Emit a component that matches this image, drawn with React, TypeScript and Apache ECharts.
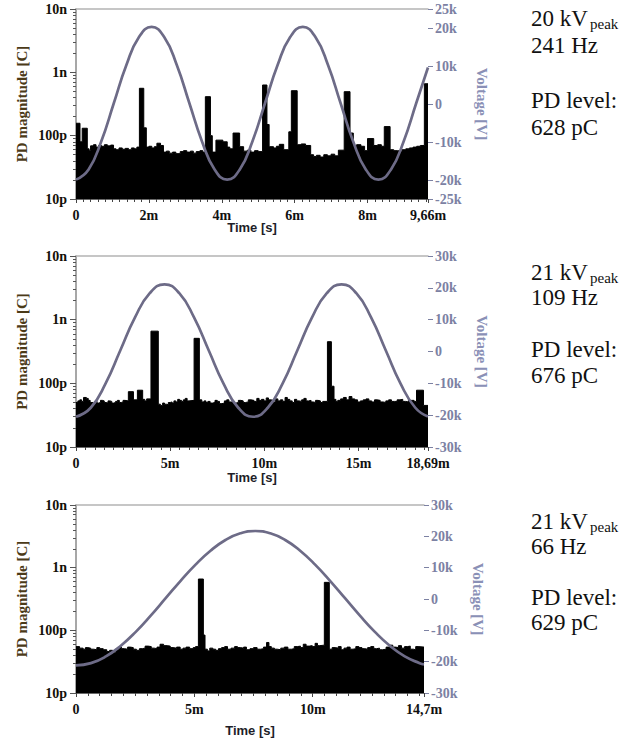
import React, { useEffect, useRef } from 'react';
import * as echarts from 'echarts';

const SERIF = 'Liberation Serif, Times New Roman, serif';
const SANS = 'Liberation Sans, Arial, sans-serif';

// PD magnitude axis (values in pC)
const PD_TICKS = [10, 100, 1000, 10000];
const PD_TICK_LABELS = ['10p', '100p', '1n', '10n'];
const PD_MINOR_TICKS = [
  20, 30, 40, 50, 60, 70, 80, 90,
  200, 300, 400, 500, 600, 700, 800, 900,
  2000, 3000, 4000, 5000, 6000, 7000, 8000, 9000,
];

// time axes (ms)
const TIME_MAX = [9.66, 18.69, 14.7];
const TIME_INTERVAL = [2, 5, 5];
const TIME_LABELS_1 = [0, 2, 4, 6, 8, 9.66];
const TIME_LABELS_2 = [0, 5, 10, 15, 18.69];
const TIME_LABELS_3 = [0, 5, 10, 14.7];

// voltage axes (V)
const VOLT_TICKS_1 = [-25000, -20000, -10000, 0, 10000, 20000, 25000];
const VOLT_TICKS_2 = [-30000, -20000, -10000, 0, 10000, 20000, 30000];
const VOLT_TICKS_3 = [-30000, -20000, -10000, 0, 10000, 20000, 30000];

// PD magnitude, panel 1: [time ms, pC]
const PD_1 = [
  [0, 157], [0.11, 80], [0.17, 131], [0.31, 62], [0.36, 58], [0.4, 69], [0.48, 72], [0.55, 66],
  [0.62, 70], [0.7, 68], [0.78, 72], [0.86, 69], [0.95, 71], [1.03, 62], [1.1, 60], [1.18, 64],
  [1.27, 61], [1.35, 63], [1.44, 60], [1.52, 64], [1.6, 62], [1.67, 66], [1.74, 560], [1.86, 133],
  [1.93, 66], [2.0, 68], [2.08, 64], [2.15, 67], [2.22, 76], [2.32, 70], [2.4, 55], [2.48, 57],
  [2.56, 53], [2.65, 55], [2.74, 52], [2.86, 56], [2.95, 58], [3.04, 55], [3.14, 57], [3.22, 53],
  [3.3, 56], [3.4, 58], [3.48, 55], [3.55, 413], [3.69, 100], [3.74, 55], [3.84, 85], [4.03, 80],
  [4.15, 66], [4.22, 62], [4.31, 110], [4.49, 67], [4.6, 57], [4.7, 59], [4.8, 55], [4.9, 58],
  [5.0, 56], [5.12, 631], [5.24, 150], [5.3, 67], [5.42, 64], [5.5, 68], [5.58, 73], [5.7, 60],
  [5.84, 115], [5.91, 513], [6.07, 72], [6.18, 74], [6.3, 70], [6.44, 50], [6.52, 47], [6.6, 49],
  [6.7, 46], [6.8, 50], [6.9, 48], [7.0, 51], [7.1, 48], [7.2, 59], [7.36, 495], [7.52, 110],
  [7.61, 70], [7.7, 72], [7.82, 68], [7.92, 58], [8.0, 90], [8.17, 70], [8.28, 72], [8.38, 68],
  [8.46, 139], [8.62, 60], [8.72, 58], [8.83, 57], [8.95, 60], [9.05, 62], [9.15, 64], [9.25, 66],
  [9.35, 68], [9.45, 70], [9.56, 660], [9.66, 660],
];

// PD magnitude, panel 2
const PD_2 = [
  [0, 50], [0.1, 53], [0.2, 55], [0.3, 52], [0.4, 60], [0.55, 58], [0.65, 54], [0.75, 50],
  [0.9, 48], [1.05, 52], [1.12, 49], [1.2, 50], [1.3, 54], [1.4, 53], [1.5, 50], [1.6, 49],
  [1.7, 53], [1.8, 52], [1.9, 49], [2.0, 50], [2.1, 52], [2.2, 54], [2.3, 50], [2.4, 51],
  [2.5, 54], [2.6, 53], [2.78, 74], [3.05, 55], [3.26, 78], [3.54, 56], [3.65, 53], [3.75, 57],
  [3.98, 660], [4.37, 47], [4.48, 45], [4.6, 49], [4.7, 47], [4.8, 46], [4.9, 50], [5.0, 51],
  [5.1, 49], [5.2, 53], [5.3, 51], [5.4, 56], [5.5, 54], [5.6, 52], [5.7, 55], [5.8, 58],
  [5.9, 53], [6.0, 54], [6.27, 509], [6.55, 55], [6.68, 51], [6.8, 53], [6.9, 50], [7.0, 52],
  [7.12, 49], [7.25, 50], [7.38, 54], [7.5, 52], [7.62, 48], [7.75, 49], [7.88, 53], [8.0, 55],
  [8.12, 51], [8.25, 52], [8.38, 49], [8.5, 50], [8.62, 54], [8.75, 53], [8.88, 50], [9.0, 51],
  [9.15, 55], [9.3, 54], [9.45, 52], [9.6, 58], [9.72, 54], [9.85, 56], [9.98, 53], [10.1, 59],
  [10.22, 55], [10.35, 54], [10.48, 51], [10.6, 57], [10.72, 53], [10.85, 55], [10.98, 52], [11.1, 60],
  [11.22, 56], [11.35, 53], [11.48, 50], [11.6, 56], [11.72, 53], [11.85, 52], [11.98, 55], [12.1, 58],
  [12.22, 53], [12.35, 54], [12.48, 51], [12.6, 50], [12.72, 54], [12.85, 53], [12.98, 50], [13.1, 52],
  [13.35, 451], [13.56, 90], [13.7, 56], [13.8, 52], [13.9, 54], [14.05, 57], [14.2, 60], [14.35, 55],
  [14.5, 62], [14.65, 57], [14.8, 55], [14.95, 51], [15.1, 53], [15.25, 55], [15.4, 57], [15.55, 53],
  [15.7, 51], [15.85, 55], [16.0, 54], [16.15, 51], [16.3, 50], [16.45, 53], [16.6, 55], [16.75, 52],
  [16.9, 52], [17.05, 55], [17.2, 56], [17.35, 52], [17.5, 51], [17.65, 54], [17.8, 54], [17.95, 52],
  [18.08, 78], [18.45, 45], [18.69, 45],
];

// PD magnitude, panel 3
const PD_3 = [
  [0, 55], [0.15, 52], [0.3, 50], [0.4, 53], [0.5, 52], [0.62, 50], [0.75, 49], [0.88, 53],
  [1.0, 51], [1.15, 49], [1.3, 46], [1.42, 48], [1.55, 44], [1.68, 50], [1.8, 54], [1.92, 51],
  [2.05, 50], [2.18, 54], [2.3, 53], [2.42, 50], [2.55, 48], [2.68, 51], [2.8, 52], [2.92, 56],
  [3.05, 55], [3.18, 52], [3.3, 51], [3.42, 54], [3.55, 60], [3.7, 57], [3.85, 56], [3.98, 53],
  [4.1, 52], [4.25, 54], [4.4, 50], [4.52, 52], [4.65, 54], [4.8, 51], [4.95, 53], [5.05, 55],
  [5.17, 659], [5.38, 84], [5.45, 50], [5.55, 47], [5.65, 52], [5.78, 50], [5.9, 48], [6.02, 51],
  [6.15, 53], [6.28, 55], [6.4, 50], [6.55, 52], [6.7, 55], [6.82, 53], [6.95, 52], [7.08, 54],
  [7.2, 49], [7.35, 51], [7.5, 53], [7.65, 50], [7.8, 51], [7.92, 54], [8.05, 64], [8.15, 55],
  [8.25, 52], [8.38, 50], [8.5, 49], [8.65, 52], [8.8, 54], [8.95, 50], [9.1, 51], [9.22, 55],
  [9.35, 56], [9.48, 53], [9.6, 60], [9.72, 56], [9.85, 57], [9.98, 55], [10.1, 62], [10.2, 57],
  [10.3, 58], [10.49, 583], [10.7, 50], [10.82, 53], [10.95, 52], [11.08, 55], [11.2, 49], [11.32, 52],
  [11.45, 54], [11.58, 50], [11.7, 51], [11.82, 55], [11.95, 53], [12.08, 51], [12.2, 50], [12.32, 53],
  [12.45, 55], [12.58, 51], [12.7, 52], [12.82, 49], [12.95, 50], [13.1, 54], [13.25, 58], [13.38, 54],
  [13.5, 53], [13.62, 57], [13.75, 52], [13.88, 55], [14.0, 56], [14.12, 50], [14.25, 49], [14.35, 55],
  [14.45, 54], [14.7, 54],
];

// voltage, [time ms, V]
const VOLT_1 = [
  [0, -19900], [0.346, -17210], [0.692, -9850], [1.037, 200], [1.383, 10250], [1.729, 17610],
  [2.075, 20300], [2.42, 17610], [2.766, 10250], [3.112, 200], [3.458, -9850], [3.804, -17210],
  [4.149, -19900], [4.495, -17210], [4.841, -9850], [5.187, 200], [5.533, 10250], [5.878, 17610],
  [6.224, 20300], [6.57, 17610], [6.916, 10250], [7.262, 200], [7.607, -9850], [7.953, -17210],
  [8.299, -19900], [8.645, -17210], [8.991, -9850], [9.336, 200], [9.66, 9600],
];
const VOLT_2 = [
  [0, -20500], [0.783, -17670], [1.567, -10100], [2.35, 300], [3.133, 10700], [3.917, 18310],
  [4.7, 21100], [5.483, 18310], [6.267, 10700], [7.05, 300], [7.833, -10100], [8.617, -17670],
  [9.4, -20500], [10.183, -17670], [10.967, -10100], [11.75, 300], [12.533, 10700], [13.317, 18310],
  [14.1, 21100], [14.883, 18310], [15.667, 10700], [16.45, 300], [17.233, -10100], [18.017, -17670],
  [18.69, -20430],
];
const VOLT_3 = [
  [0, -21200], [0.631, -20470], [1.263, -18330], [1.894, -14910], [2.525, -10480], [3.156, -5310],
  [3.788, 250], [4.419, 5810], [5.05, 10980], [5.681, 15410], [6.313, 18830], [6.944, 20970],
  [7.575, 21700], [8.206, 20970], [8.838, 18830], [9.469, 15410], [10.1, 10980], [10.731, 5810],
  [11.363, 250], [11.994, -5310], [12.625, -10480], [13.256, -14910], [13.888, -18330], [14.519, -20470],
  [14.7, -20840],
];

// side annotations
const ANNOT_VOLT = ['20 kV', '21 kV', '21 kV'];
const ANNOT_FREQ = ['241 Hz', '109 Hz', '66 Hz'];
const ANNOT_PD = ['628 pC', '676 pC', '629 pC'];

const PD_DATA = [PD_1, PD_2, PD_3];
const VOLT_DATA = [VOLT_1, VOLT_2, VOLT_3];
const TIME_LABELS = [TIME_LABELS_1, TIME_LABELS_2, TIME_LABELS_3];
const VOLT_TICKS = [VOLT_TICKS_1, VOLT_TICKS_2, VOLT_TICKS_3];

// layout
const GRIDS = [
  { left: 76, top: 9, width: 352, height: 190 },
  { left: 76, top: 256, width: 352, height: 191 },
  { left: 76, top: 505, width: 348, height: 188 },
];
const TIME_NAME_GAP = [22, 24, 31];
const TEXT_Y = [
  [18, 45, 100, 127],
  [272, 297, 349, 375],
  [521, 546, 597, 622],
];

const VOLT_COLOR = '#7c81a3';
const CURVE_COLOR = '#6d6b87';

function timeLabel(v: number) {
  if (Math.abs(v) < 1e-9) return '0';
  return String(Math.round(v * 100) / 100).replace('.', ',') + 'm';
}
function voltLabel(v: number) {
  if (Math.abs(v) < 1e-6) return '0';
  return Math.round(v / 1000) + 'k';
}
function pdLabel(v: number) {
  const idx = Math.round(Math.log10(v)) - 1;
  return PD_TICK_LABELS[idx] ?? '';
}

export default function App() {
  const ref = useRef<HTMLDivElement>(null);
  useEffect(() => {
    if (!ref.current) return;
    const chart = echarts.init(ref.current, undefined, { renderer: 'svg' });

    const grid: any[] = [];
    const xAxis: any[] = [];
    const yAxis: any[] = [];
    const series: any[] = [];
    const graphic: any[] = [];

    const logMin = Math.log10(PD_TICKS[0]);
    const logMax = Math.log10(PD_TICKS[PD_TICKS.length - 1]);
    const minorLog = PD_MINOR_TICKS.map((v) => Math.log10(v));

    for (let i = 0; i < 3; i++) {
      grid.push({ ...GRIDS[i], containLabel: false });
      const tmax = TIME_MAX[i];
      xAxis.push({
        type: 'value', gridIndex: i, position: 'bottom', min: 0, max: tmax, interval: TIME_INTERVAL[i],
        axisLine: { show: true, onZero: false, lineStyle: { color: '#6a6a6a', width: 1 } },
        axisTick: { show: true, length: 4, lineStyle: { color: '#444' } },
        minorTick: { show: true, splitNumber: 10, length: 3, lineStyle: { color: '#444' } },
        axisLabel: {
          customValues: TIME_LABELS[i], formatter: timeLabel, margin: 9,
          fontFamily: SERIF, fontWeight: 'bold', fontSize: 14, color: '#111',
        },
        splitLine: { show: false }, minorSplitLine: { show: false },
        name: 'Time [s]', nameLocation: 'middle', nameGap: TIME_NAME_GAP[i], nameMoveOverlap: false,
        nameTextStyle: { fontFamily: SANS, fontWeight: 'bold', fontSize: 13, color: '#1e1e28' },
      });
      xAxis.push({
        type: 'value', gridIndex: i, position: 'top', min: 0, max: 1,
        axisLine: { show: true, onZero: false, lineStyle: { color: '#b4b4b4', width: 1.5 } },
        axisTick: { show: false }, axisLabel: { show: false }, splitLine: { show: false },
      });
      yAxis.push({
        type: 'log', logBase: 10, gridIndex: i, position: 'left', min: PD_TICKS[0], max: PD_TICKS[3],
        axisLine: { show: true, onZero: false, lineStyle: { color: '#8a8a8a', width: 1.5 } },
        axisTick: { show: true, length: 6, lineStyle: { color: '#555' } },
        axisLabel: {
          formatter: pdLabel, margin: 9,
          fontFamily: SERIF, fontWeight: 'bold', fontSize: 14, color: '#141008',
        },
        splitLine: { show: false },
        name: 'PD magnitude [C]', nameLocation: 'middle', nameGap: 47, nameMoveOverlap: false,
        nameTextStyle: { fontFamily: SERIF, fontWeight: 'bold', fontSize: 15, color: '#4b3a18' },
      });
      // minor log ticks, placed on a linear axis in log10 space
      yAxis.push({
        type: 'value', gridIndex: i, position: 'left', min: logMin, max: logMax,
        axisLine: { show: false, onZero: false },
        axisTick: { show: true, length: 3, customValues: minorLog, lineStyle: { color: '#555' } },
        axisLabel: { show: false }, splitLine: { show: false },
      });
      const vt = VOLT_TICKS[i];
      yAxis.push({
        type: 'value', gridIndex: i, position: 'right', min: vt[0], max: vt[vt.length - 1],
        axisLine: { show: false, onZero: false },
        axisTick: { show: true, length: 5, customValues: vt, lineStyle: { color: VOLT_COLOR } },
        axisLabel: {
          customValues: vt, formatter: voltLabel, margin: 7,
          fontFamily: SERIF, fontWeight: 'bold', fontSize: 14, color: VOLT_COLOR,
        },
        splitLine: { show: false },
        name: 'Voltage [V]', nameLocation: 'middle', nameGap: 46, nameRotate: -90, nameMoveOverlap: false,
        nameTextStyle: { fontFamily: SERIF, fontWeight: 'bold', fontSize: 15, color: '#8a90b6' },
      });

      series.push({
        type: 'line', xAxisIndex: 2 * i, yAxisIndex: 3 * i, data: PD_DATA[i],
        step: 'end', symbol: 'none', z: 2,
        lineStyle: { color: '#000', width: 1 },
        areaStyle: { color: '#000', opacity: 1, origin: 'start' },
      });
      series.push({
        type: 'line', xAxisIndex: 2 * i, yAxisIndex: 3 * i + 2, data: VOLT_DATA[i],
        smooth: true, symbol: 'none', z: 3,
        lineStyle: { color: CURVE_COLOR, width: 2.7 },
      });

      const ty = TEXT_Y[i];
      const big = '23px Liberation Serif';
      graphic.push({ type: 'text', x: 531, y: ty[0], style: { font: big, fill: '#111', text: ANNOT_VOLT[i], verticalAlign: 'middle' } });
      graphic.push({ type: 'text', x: 590, y: ty[0] + 6, style: { font: '15px Liberation Serif', fill: '#111', text: 'peak', verticalAlign: 'middle' } });
      graphic.push({ type: 'text', x: 531, y: ty[1], style: { font: big, fill: '#111', text: ANNOT_FREQ[i], verticalAlign: 'middle' } });
      graphic.push({ type: 'text', x: 531, y: ty[2], style: { font: big, fill: '#111', text: 'PD level:', verticalAlign: 'middle' } });
      graphic.push({ type: 'text', x: 531, y: ty[3], style: { font: big, fill: '#111', text: ANNOT_PD[i], verticalAlign: 'middle' } });
    }

    chart.setOption({
      animation: false,
      backgroundColor: '#fff',
      grid, xAxis, yAxis, series, graphic,
    });
    return () => chart.dispose();
  }, []);
  return (
    <div
      ref={ref}
      style={{ position: 'fixed', left: 0, top: 0, width: 640, height: 744, background: '#fff' }}
    />
  );
}
